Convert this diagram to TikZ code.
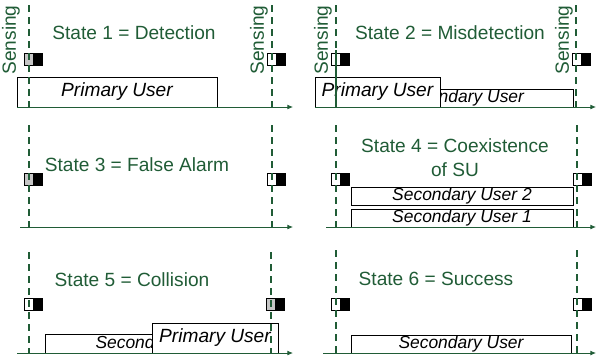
\documentclass[tikz,border=0pt]{standalone}
\usepackage{fontspec}
\setmainfont{Liberation Sans}
\usetikzlibrary{arrows.meta}
\definecolor{sgreen}{RGB}{32,92,54}

\begin{document}
\begin{tikzpicture}[x=0.25mm, y=-0.25mm,
	title/.style = {text=sgreen, font=\fontsize{13.6}{17}\selectfont, align=center},
	sense/.style = {text=sgreen, font=\fontsize{13.6}{16}\selectfont, rotate=90, inner sep=0},
	user/.style 2 args = {draw, fill=white, inner sep=0, minimum width=#1*0.25mm, minimum height=#2*0.25mm},
	pu/.style = {font=\fontsize{13.6}{16}\selectfont\itshape},
	su/.style = {font=\fontsize{12.4}{15}\selectfont\itshape},
	sbox/.style = {draw, inner sep=0, minimum width=2.25mm, minimum height=3mm, line width=0.5pt},
	slot/.style = {sgreen, line width=1.4pt, dash pattern=on 1.75mm off 1.25mm},
	axis/.style = {sgreen, line width=0.6pt, -{Latex[length=1.4mm,width=1.2mm]}}]

	\useasboundingbox (0,0) rectangle (598,362);

	% titles
	\node[title] (st1) at (134,33) {State 1 = Detection};
	\node[title] (st2) at (450,33) {State 2 = Misdetection};
	\node[title] (st3) at (137,165) {State 3 = False Alarm};
	\node[title] (st4) at (455,158) {State 4 = Coexistence\\of SU};
	\node[title] (st5) at (132,280) {State 5 = Collision};
	\node[title] (st6) at (436,279) {State 6 = Success};

	\node[sense] (se1) at (11,40) {Sensing};
	\node[sense] (se2) at (259,40) {Sensing};
	\node[sense] (se3) at (323,40) {Sensing};
	\node[sense] (se4) at (564,40) {Sensing};

	% users
	\node[user={200}{30}, pu] (pu1) at (117,92) {Primary User};
	\node[user={223}{18}, su] (su2) at (461.5,98) {Secondary User};
	\node[user={125}{30}, pu] (pu2) at (377.5,92) {Primary User};
	\node[user={222}{18}, su] (su4b) at (462,196) {Secondary User 2};
	\node[user={222}{18}, su] (su4a) at (462,218) {Secondary User 1};
	\node[user={226}{19}, su] (su5) at (158,343.5) {Secondary User};
	\node[user={126}{30}, pu] (pu5) at (215,338) {Primary User};
	\node[user={220}{18}, su] (su6) at (461,344) {Secondary User};

	% sensing marks
	\foreach \x/\y/\f/\n in {29/59/gray!45/1l, 272/59/white/1r, 336/59/white/2l, 577/59/white/2r,
			29/179/gray!45/3l, 272/179/white/3r, 336/179/white/4l, 578/179/white/4r,
			29/304.5/white/5l, 271/304.5/gray!45/5r, 336/304.5/white/6l, 578/304.5/white/6r} {
		\node[sbox, fill=\f] (w\n) at (\x,\y) {};
		\node[sbox, fill=black] (b\n) at (\x+9,\y) {};
	}

	% time axes and sensing instants
	\foreach \n/\xs/\ya/\xe/\xl/\xr/\yt in {1/17/107/293/29/272/5, 2/315/107/596/336/576/5,
			3/20/227/293/29/272/125, 4/326/227/596/336/577/125,
			5/17/353/293/29/271/252, 6/323/353/596/336/577/250} {
		\coordinate (s\n) at (\xs,\ya);
		\coordinate (e\n) at (\xe,\ya);
		\coordinate (tl\n) at (\xl,\yt);
		\coordinate (bl\n) at (\xl,\ya);
		\coordinate (tr\n) at (\xr,\yt);
		\coordinate (br\n) at (\xr,\ya);
		\draw[axis] (s\n) -- (e\n);
		\draw[slot] (tl\n) -- (bl\n);
		\draw[slot] (tr\n) -- (br\n);
	}
	\coordinate (m2) at (336,50);
	\draw[sgreen, line width=1.4pt] (m2) -- (bl2);
\end{tikzpicture}
\end{document}
